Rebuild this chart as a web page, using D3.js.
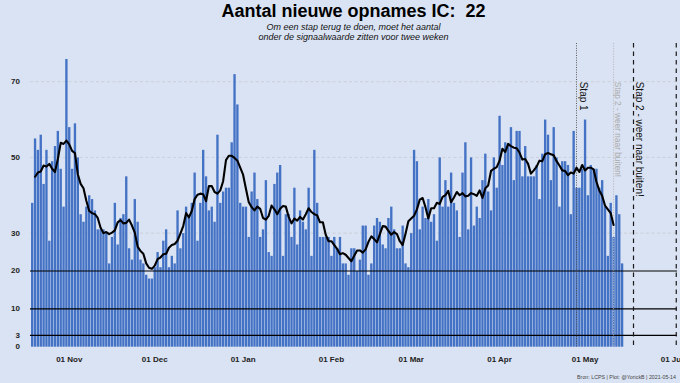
<!DOCTYPE html>
<html>
<head>
<meta charset="utf-8">
<script src="https://cdn.jsdelivr.net/npm/d3@7"></script>
<style>
html,body{margin:0;padding:0;background:#DAE3F3;}
svg{display:block;font-family:"Liberation Sans",Arial,Helvetica,sans-serif;}
</style>
</head>
<body>
<svg id="chart" width="680" height="383"></svg>
<script>
// ---------------- data ----------------
const startDate = "2020-10-19";
const admissions = [
  38,55,52,56,43,52,28,49,53,57,
  47,37,76,58,47,59,50,35,33,37,
  40,39,36,31,31,31,30,22,29,38,
  27,34,35,45,26,23,39,33,23,22,
  19,18,18,21,25,21,28,31,21,24,
  22,36,26,30,37,34,38,46,28,38,
  52,45,36,37,33,56,38,41,42,42,
  54,72,64,38,37,37,29,41,46,39,
  29,31,44,25,24,43,46,48,24,35,
  35,29,42,27,36,33,31,42,24,52,
  38,29,29,29,29,24,29,26,29,22,
  22,19,26,26,20,23,32,32,19,22,
  32,34,33,27,26,34,37,31,26,26,
  32,22,21,30,52,49,31,37,34,39,
  33,35,28,50,37,44,37,46,38,36,
  29,46,54,31,50,32,37,34,44,51,
  41,36,50,42,61,48,54,53,58,44,
  57,57,45,53,45,45,45,48,39,51,
  60,56,44,58,50,37,49,49,48,35,
  57,42,42,47,60,40,48,47,47,42,
  44,37,24,38,29,40,35,22
];
// first two points of the 7-day centred average (they need days before the shown window)
const avgLead = [44.9, 46.0];
const yTicks = [0, 3, 10, 20, 30, 50, 70];
const gridValues = [30, 50, 70];
const thresholdValues = [3, 10, 20];
const xTickDates = ["2020-11-01","2020-12-01","2021-01-01","2021-02-01","2021-03-01","2021-04-01","2021-05-01","2021-06-01"];
const xTickLabels = ["01 Nov","01 Dec","01 Jan","01 Feb","01 Mar","01 Apr","01 May","01 Jun"];
const eventDates = ["2021-04-28","2021-05-11","2021-05-18","2021-06-02"];
const eventLabels = ["Stap 1","Stap 2 - weer naar buiten!","Stap 2 - weer naar buiten!",""];
const titleText = "Aantal nieuwe opnames IC:  22";
const subtitleLines = ["Om een stap terug te doen, moet het aantal","onder de signaalwaarde zitten voor twee weken"];
const caption = "Bron: LCPS | Plot: @YorickB | 2021-05-14";

// ---------------- layout / style ----------------
const panel = {left: 30, right: 677, top: 43, bottom: 347};
const eventStyles = [
  {stroke:"#4a4a4a", dash:"1,1.4", width:0.9, text:"#111", size:10, dx:6.5},
  {stroke:"#b9b9b9", dash:"1.2,1.4", width:0.9, text:"#aaaaaa", size:8.3, dx:4.5},
  {stroke:"#1a1a1a", dash:"4.5,4", width:1.2, text:"#111", size:10, dx:6},
  {stroke:"#1a1a1a", dash:"4.5,4", width:1.2, text:"#111", size:10, dx:6}
];

const parse = d3.utcParse("%Y-%m-%d");
const t0 = parse(startDate);
const days = admissions.map((v, i) => d3.utcDay.offset(t0, i));

const x = d3.scaleUtc()
  .domain([t0, parse("2021-06-01")])
  .range([32.2, 673.4]);
const y = d3.scaleLinear().domain([0, 70]).range([346.7, 81.7]);

const svg = d3.select("#chart");
svg.append("rect").attr("width", 680).attr("height", 383).attr("fill", "#DAE3F3");

// grid lines
svg.append("g").selectAll("line").data(gridValues).join("line")
  .attr("x1", panel.left).attr("x2", panel.right)
  .attr("y1", d => y(d)).attr("y2", d => y(d))
  .attr("stroke", "#c6cad2").attr("stroke-width", 0.8).attr("stroke-dasharray", "3,2.5");

// bars
const step = x(days[1]) - x(days[0]);
const bw = step - 0.5;
svg.append("g").selectAll("rect").data(admissions).join("rect")
  .attr("x", (d, i) => x(days[i]) - bw / 2)
  .attr("width", bw)
  .attr("y", d => y(d))
  .attr("height", d => y(0) - y(d))
  .attr("fill", "#4472C4");

// threshold lines
svg.append("g").selectAll("line").data(thresholdValues).join("line")
  .attr("x1", panel.left).attr("x2", panel.right)
  .attr("y1", d => y(d)).attr("y2", d => y(d))
  .attr("stroke", "#000").attr("stroke-width", 1.2);

// event lines + labels
const ev = svg.append("g");
eventDates.forEach((ds, i) => {
  const st = eventStyles[i];
  const xe = x(parse(ds));
  ev.append("line")
    .attr("x1", xe).attr("x2", xe).attr("y1", panel.top).attr("y2", panel.bottom)
    .attr("stroke", st.stroke).attr("stroke-width", st.width).attr("stroke-dasharray", st.dash);
  if (eventLabels[i]) {
    ev.append("text")
      .attr("transform", `translate(${xe + st.dx},${y(70)}) rotate(90)`)
      .attr("dominant-baseline", "central")
      .attr("font-size", st.size)
      .attr("fill", st.text)
      .text(eventLabels[i]);
  }
});

// 7-day centred moving average
const avg = [];
avgLead.forEach((v, k) => avg.push({d: days[k + 1], v}));
for (let i = 3; i <= admissions.length - 4; i++) {
  avg.push({d: days[i], v: d3.mean(admissions.slice(i - 3, i + 4))});
}
svg.append("path").datum(avg)
  .attr("d", d3.line().x(p => x(p.d)).y(p => y(p.v)))
  .attr("fill", "none").attr("stroke", "#000").attr("stroke-width", 2.1)
  .attr("stroke-linejoin", "round").attr("stroke-linecap", "round");

// y axis labels
svg.append("g").selectAll("text").data(yTicks).join("text")
  .attr("x", 20).attr("y", d => y(d))
  .attr("text-anchor", "end").attr("dominant-baseline", "central")
  .attr("font-size", 8).attr("font-weight", "bold").attr("fill", "#222")
  .text(d => d);

// x axis labels
svg.append("g").selectAll("text").data(xTickDates).join("text")
  .attr("x", d => x(parse(d))).attr("y", 362)
  .attr("text-anchor", "middle")
  .attr("font-size", 8).attr("font-weight", "bold").attr("fill", "#222")
  .text((d, i) => xTickLabels[i]);

// title & subtitle
const cx = (panel.left + panel.right) / 2;
svg.append("text").attr("x", cx).attr("y", 17.3)
  .attr("text-anchor", "middle").attr("font-size", 18).attr("font-weight", "bold")
  .attr("fill", "#000").style("white-space", "pre").attr("xml:space", "preserve")
  .text(titleText);
svg.append("g").selectAll("text").data(subtitleLines).join("text")
  .attr("x", cx).attr("y", (d, i) => 29.5 + i * 10)
  .attr("text-anchor", "middle").attr("font-size", 9).attr("font-style", "italic")
  .attr("fill", "#111").text(d => d);

// caption
svg.append("text").attr("x", 676).attr("y", 378.5)
  .attr("text-anchor", "end").attr("font-size", 5.3).attr("fill", "#444")
  .text(caption);
</script>
</body>
</html>
